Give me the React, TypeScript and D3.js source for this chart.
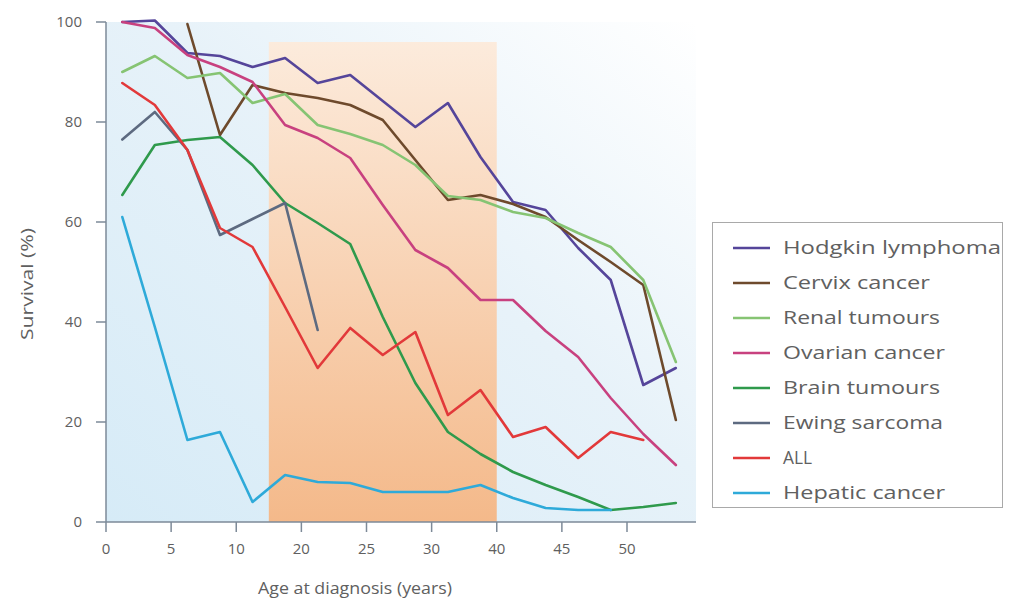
import React from "react";
import * as d3 from "d3";

const ages = [1.25, 3.75, 6.25, 8.75, 11.25, 13.75, 16.25, 18.75, 21.25, 23.75, 26.25, 28.75, 31.25, 33.75, 36.25, 38.75, 41.25, 43.75];

const hodgkin = [100, 100.3, 93.8, 93.2, 91, 92.8, 87.8, 89.4, 84.2, 79, 83.8, 73, 64, 62.4, 54.8, 48.4, 27.4, 30.8];
const cervix = [null, null, 99.6, 77.4, 87.4, 85.8, 84.8, 83.4, 80.4, 72.4, 64.4, 65.4, 63.6, 61, 56.4, 52, 47.4, 20.4];
const renal = [90, 93.2, 88.8, 89.8, 83.8, 85.6, 79.4, 77.6, 75.4, 71.4, 65.2, 64.4, 62, 60.8, 57.8, 55, 48.4, 32];
const ovarian = [100, 98.8, 93.4, 91, 88, 79.4, 76.8, 72.8, 63.4, 54.4, 50.8, 44.4, 44.4, 38.2, 33, 24.8, 17.6, 11.4];
const brain = [65.4, 75.4, 76.4, 77, 71.4, 63.8, 59.8, 55.6, 41, 27.8, 18, 13.6, 10, 7.4, 5, 2.4, 3, 3.8];
const ewing = [76.5, 82, 74.4, 57.4, 60.6, 63.8, 38.4];
const all = [87.8, 83.4, 74.4, 58.8, 55, 43, 30.8, 38.8, 33.4, 38, 21.4, 26.4, 17, 19, 12.8, 18, 16.4];
const hepatic = [61, 39, 16.4, 18, 4, 9.4, 8, 7.8, 6, 6, 6, 7.4, 4.8, 2.8, 2.4, 2.4];

const seriesNames = ["Hodgkin lymphoma", "Cervix cancer", "Renal tumours", "Ovarian cancer", "Brain tumours", "Ewing sarcoma", "ALL", "Hepatic cancer"];
const seriesValues = [hodgkin, cervix, renal, ovarian, brain, ewing, all, hepatic];
const seriesColors = ["#55459a", "#6e4a2c", "#86c473", "#c8417f", "#2f9a4c", "#5d6a80", "#e2393a", "#2eaad9"];
const legendWidths = [218, 147, 157, 162, 157, 160, 29, 162];

const xTickValues = [0, 5, 10, 15, 20, 25, 30, 35, 40];
const xTickLabels = ["0", "5", "10", "20", "25", "30", "40", "45", "50"];
const yTickValues = [0, 20, 40, 60, 80, 100];

const bandStart = 12.5;
const bandEnd = 30;
const bandTop = 96;
const xMax = 45.3;

export default function App() {
  const x = d3.scaleLinear().domain([0, 40]).range([106, 627]);
  const y = d3.scaleLinear().domain([0, 100]).range([522, 22]);
  const line = d3
    .line<[number, number | null]>()
    .defined((d) => d[1] !== null)
    .x((d) => x(d[0]))
    .y((d) => y(d[1] as number));

  const font = "'Open Sans', 'DejaVu Sans', sans-serif";
  const textColor = "#606060";
  const axisColor = "#7d8a98";

  return (
    <svg width={1009} height={604} style={{ position: "absolute", left: 0, top: 0 }} fontFamily={font}>
      <defs>
        <linearGradient id="bluebg" x1="0" y1="1" x2="1" y2="0">
          <stop offset="0" stopColor="#d6ebf7" />
          <stop offset="0.55" stopColor="#e7f2f9" />
          <stop offset="1" stopColor="#ffffff" />
        </linearGradient>
        <linearGradient id="orangebg" x1="0" y1="0" x2="0" y2="1">
          <stop offset="0" stopColor="#fcebdc" />
          <stop offset="1" stopColor="#f4b98a" />
        </linearGradient>
      </defs>
      <rect width={1009} height={604} fill="#ffffff" />
      <rect x={x(0)} y={y(100)} width={x(xMax) - x(0)} height={y(0) - y(100)} fill="url(#bluebg)" />
      <rect x={x(bandStart)} y={y(bandTop)} width={x(bandEnd) - x(bandStart)} height={y(0) - y(bandTop)} fill="url(#orangebg)" />

      {seriesValues.map((vals, i) => (
        <path
          key={seriesNames[i]}
          d={line(vals.map((v, k) => [ages[k], v] as [number, number | null])) || ""}
          fill="none"
          stroke={seriesColors[i]}
          strokeWidth={2.6}
          strokeLinejoin="round"
          strokeLinecap="round"
        />
      ))}

      {/* axes */}
      <line x1={x(0)} x2={x(0)} y1={y(100)} y2={y(0)} stroke={axisColor} strokeWidth={1.5} />
      <line x1={x(0)} x2={x(xMax)} y1={y(0)} y2={y(0)} stroke={axisColor} strokeWidth={1.5} />
      {yTickValues.map((t) => (
        <g key={"y" + t}>
          <line x1={x(0) - 10} x2={x(0)} y1={y(t)} y2={y(t)} stroke={axisColor} strokeWidth={1.5} />
          <text x={82} y={y(t)} dy="0.35em" textAnchor="end" fontSize={15} fill={textColor}>
            {t}
          </text>
        </g>
      ))}
      {xTickValues.map((t, i) => (
        <g key={"x" + t}>
          <line x1={x(t)} x2={x(t)} y1={y(0)} y2={y(0) + 10} stroke={axisColor} strokeWidth={1.5} />
          <text x={x(t)} y={554} textAnchor="middle" fontSize={15} fill={textColor}>
            {xTickLabels[i]}
          </text>
        </g>
      ))}
      <text x={355} y={594} textAnchor="middle" fontSize={17} fill={textColor} textLength={194} lengthAdjust="spacingAndGlyphs">
        Age at diagnosis (years)
      </text>
      <text
        transform="translate(33,284) rotate(-90)"
        textAnchor="middle"
        fontSize={16}
        fill={textColor}
        textLength={112}
        lengthAdjust="spacingAndGlyphs"
      >
        Survival (%)
      </text>

      {/* legend */}
      <rect x={712.5} y={222.5} width={290} height={285} fill="#ffffff" stroke="#a9a9a9" strokeWidth={1} />
      {seriesNames.map((name, i) => {
        const yy = 248 + i * 35;
        return (
          <g key={"lg" + name}>
            <line x1={733} x2={770} y1={yy} y2={yy} stroke={seriesColors[i]} strokeWidth={2.6} />
            <text
              x={783}
              y={yy}
              dy="0.35em"
              fontSize={18}
              fill={textColor}
              textLength={legendWidths[i]}
              lengthAdjust="spacingAndGlyphs"
            >
              {name}
            </text>
          </g>
        );
      })}
    </svg>
  );
}
